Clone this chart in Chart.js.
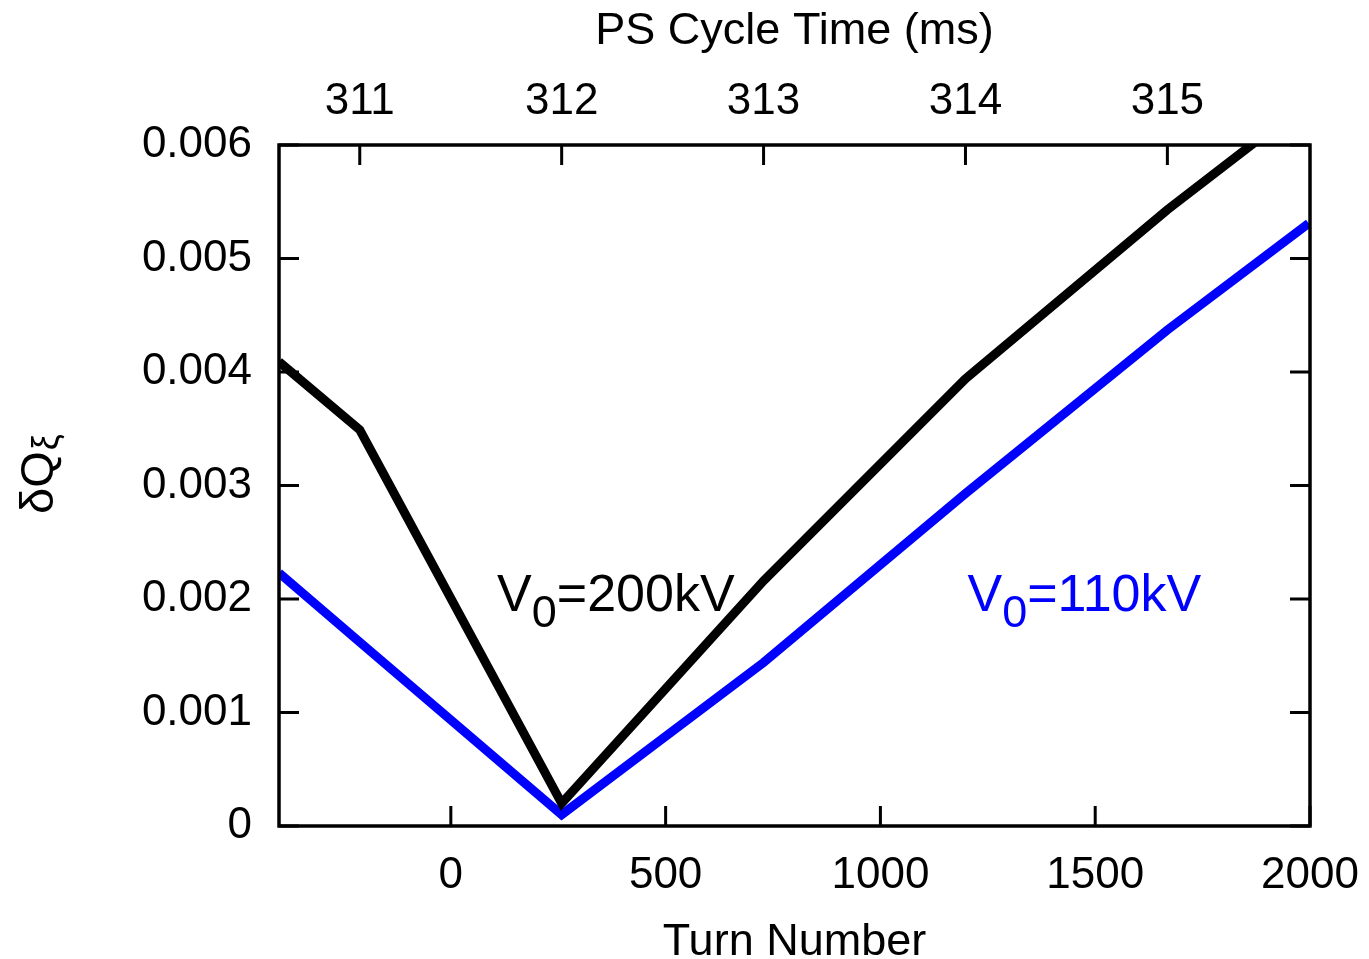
<!DOCTYPE html>
<html>
<head>
<meta charset="utf-8">
<title>dQ vs turn number</title>
<script src="https://cdn.jsdelivr.net/npm/chart.js@4.4.1/dist/chart.umd.min.js"></script>
<style>
  html, body { margin: 0; padding: 0; background: #fff; }
  #wrap { width: 1369px; height: 959px; position: relative; }
</style>
</head>
<body>
<div id="wrap"><canvas id="myChart"></canvas></div>
<script>
// Cycle time (ms) at which each value was taken
const cycleTime = [310.6, 311, 312, 313, 314, 315, 316];
const dq200 = [0.00409, 0.00349, 0.0002, 0.00216, 0.00394, 0.00543, 0.0068];
const cycleTime110 = [310.6, 311, 312, 313, 314, 315, 315.7];
const dq110 = [0.00223, 0.00162, 0.0001, 0.00144, 0.00293, 0.00437, 0.00531];

// Axis ticks
const turnTicks = [0, 500, 1000, 1500, 2000];
const msTicks = [311, 312, 313, 314, 315];
const yTicks = [0, 0.001, 0.002, 0.003, 0.004, 0.005, 0.006];

// relation between turn number and cycle time
const TURN_MIN = -400;
const TURN_MAX = 2000;
const TURN_AT_312 = 258;
const TURNS_PER_MS = 470;
const MS_MIN = 312 + (TURN_MIN - TURN_AT_312) / TURNS_PER_MS;
const MS_MAX = 312 + (TURN_MAX - TURN_AT_312) / TURNS_PER_MS;

const FONT = "'Liberation Sans', Arial, Helvetica, sans-serif";
const tickFont = { family: FONT, size: 44, lineHeight: 1.2 };

function toPoints(xs, ys) {
  return xs.map((x, i) => ({ x: x, y: ys[i] }));
}

// frame, inward ticks and the text labels
const framePlugin = {
  id: "frame",
  afterDatasetsDraw(chart) {
    const ctx = chart.ctx;
    const a = chart.chartArea;
    const sx = chart.scales.x;
    const st = chart.scales.xTop;
    const sy = chart.scales.y;
    const len = 20;

    ctx.save();
    ctx.strokeStyle = "#000";
    ctx.lineWidth = 3;
    ctx.beginPath();
    yTicks.forEach((v) => {
      const py = sy.getPixelForValue(v);
      ctx.moveTo(a.left, py);
      ctx.lineTo(a.left + len, py);
      ctx.moveTo(a.right, py);
      ctx.lineTo(a.right - len, py);
    });
    turnTicks.forEach((v) => {
      const px = sx.getPixelForValue(v);
      ctx.moveTo(px, a.bottom);
      ctx.lineTo(px, a.bottom - len);
    });
    msTicks.forEach((v) => {
      const px = st.getPixelForValue(v);
      ctx.moveTo(px, a.top);
      ctx.lineTo(px, a.top + len);
    });
    ctx.stroke();
    ctx.lineWidth = 3.5;
    ctx.strokeRect(a.left, a.top, a.right - a.left, a.bottom - a.top);

    // curve labels with subscript
    function label(text1, sub, text2, x, y, color) {
      ctx.fillStyle = color;
      ctx.textBaseline = "alphabetic";
      ctx.textAlign = "left";
      const px = st.getPixelForValue(x);
      const py = sy.getPixelForValue(y);
      ctx.font = "52px " + FONT;
      ctx.fillText(text1, px, py);
      let w = ctx.measureText(text1).width;
      ctx.font = "45px " + FONT;
      ctx.fillText(sub, px + w, py + 16);
      w += ctx.measureText(sub).width;
      ctx.font = "52px " + FONT;
      ctx.fillText(text2, px + w, py);
    }
    label("V", "0", "=200kV", 312 - 0.32, 0.00189, "#000");
    label("V", "0", "=110kV", 314.01, 0.00189, "#0000ff");

    // y axis title
    ctx.translate(53, 514);
    ctx.rotate(-Math.PI / 2);
    ctx.fillStyle = "#000";
    ctx.font = "47px " + FONT;
    ctx.fillText("\u03b4Q", 0, 0);
    const wq = ctx.measureText("\u03b4Q").width;
    ctx.font = "36px " + FONT;
    ctx.fillText("\u03be", wq + 1, 5);
    ctx.restore();
  },
};

const ctx = document.getElementById("myChart").getContext("2d");
const myChart = new Chart(ctx, {
  type: "line",
  data: {
    datasets: [
      {
        label: "V0=200kV",
        data: toPoints(cycleTime, dq200),
        xAxisID: "xTop",
        yAxisID: "y",
        borderColor: "#000000",
        borderWidth: 9,
        pointRadius: 0,
        tension: 0,
        fill: false,
      },
      {
        label: "V0=110kV",
        data: toPoints(cycleTime110, dq110),
        xAxisID: "xTop",
        yAxisID: "y",
        borderColor: "#0000ff",
        borderWidth: 9,
        pointRadius: 0,
        tension: 0,
        fill: false,
      },
    ],
  },
  options: {
    responsive: true,
    maintainAspectRatio: false,
    animation: false,
    layout: { padding: { left: 0, top: 0, bottom: 0, right: 59 } },
    plugins: {
      legend: { display: false },
      tooltip: { enabled: false },
    },
    scales: {
      x: {
        type: "linear",
        position: "bottom",
        min: TURN_MIN,
        max: TURN_MAX,
        afterBuildTicks: (s) => { s.ticks = turnTicks.map((v) => ({ value: v })); },
        afterFit: (s) => { s.height = 133; s.paddingLeft = 0; s.paddingRight = 0; },
        grid: { display: false, drawTicks: false },
        border: { display: false },
        ticks: {
          font: tickFont,
          color: "#000",
          padding: 23,
          maxRotation: 0,
          autoSkip: false,
          callback: (v) => String(v),
        },
        title: {
          display: true,
          text: "Turn Number",
          color: "#000",
          font: { family: FONT, size: 45, lineHeight: 1 },
          padding: { top: 0, bottom: -6 },
        },
      },
      xTop: {
        type: "linear",
        position: "top",
        min: MS_MIN,
        max: MS_MAX,
        afterBuildTicks: (s) => { s.ticks = msTicks.map((v) => ({ value: v })); },
        afterFit: (s) => { s.height = 145; s.paddingLeft = 0; s.paddingRight = 0; },
        grid: { display: false, drawTicks: false },
        border: { display: false },
        ticks: {
          font: tickFont,
          color: "#000",
          padding: 17,
          maxRotation: 0,
          autoSkip: false,
          callback: (v) => String(v),
        },
        title: {
          display: true,
          text: "PS Cycle Time (ms)",
          color: "#000",
          font: { family: FONT, size: 45, lineHeight: 1 },
          padding: { top: 9, bottom: 0 },
        },
      },
      y: {
        type: "linear",
        position: "left",
        min: 0,
        max: 0.006,
        afterBuildTicks: (s) => { s.ticks = yTicks.map((v) => ({ value: v })); },
        afterFit: (s) => { s.width = 279; },
        grid: { display: false, drawTicks: false },
        border: { display: false },
        ticks: {
          font: tickFont,
          color: "#000",
          padding: 27,
          autoSkip: false,
          callback: (v) => (v === 0 ? "0" : v.toFixed(3)),
        },
      },
    },
  },
  plugins: [framePlugin],
});
</script>
</body>
</html>
